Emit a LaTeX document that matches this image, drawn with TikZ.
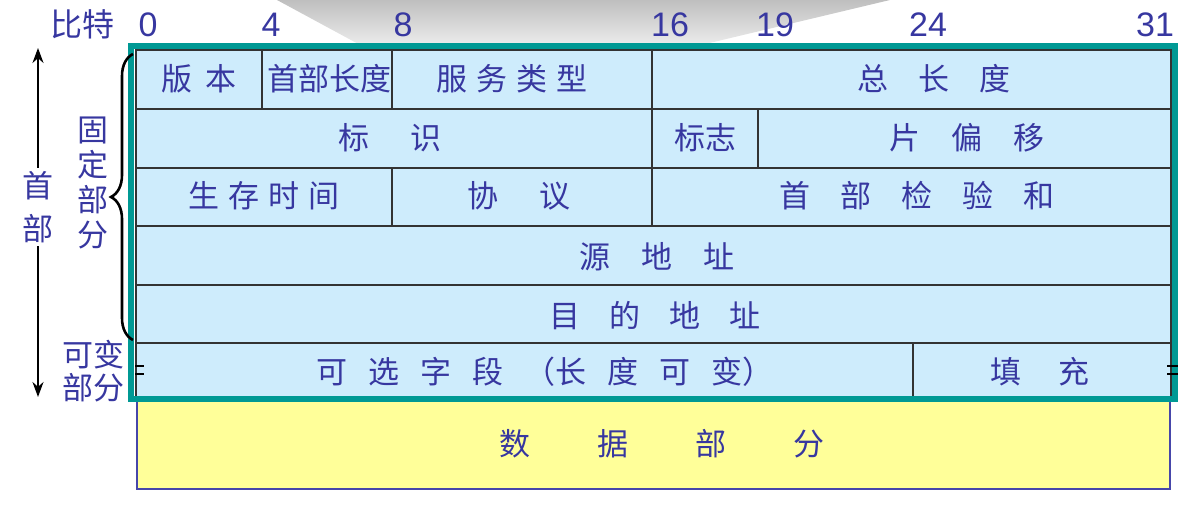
\documentclass[tikz,border=0pt]{standalone}
\usepackage{fontspec}
\newfontfamily\cjk{Noto Sans CJK SC}
\newfontfamily\digitfont{Liberation Sans}
\usetikzlibrary{arrows.meta,decorations.pathreplacing}
\definecolor{teal2}{RGB}{0,153,148}
\definecolor{txtblue}{RGB}{55,55,160}
\definecolor{cellblue}{RGB}{206,236,252}
\definecolor{datayel}{RGB}{255,255,153}
\definecolor{databord}{RGB}{70,70,170}
\newcommand\gapp[1]{\hspace{#1pt}}
\tikzset{
  cell/.style={draw=black!80,line width=1.6pt,fill=cellblue},
  lbl/.style={font=\cjk\fontsize{31}{31}\selectfont,text=txtblue,inner sep=0pt,anchor=center},
  bit/.style={font=\digitfont\fontsize{34}{34}\selectfont,text=txtblue,inner sep=0pt,anchor=center},
  frame/.style={draw=teal2,line width=6pt},
  brk/.style={draw=black,line width=2.6pt},
}
\begin{document}
\begin{tikzpicture}[x=1pt,y=-1pt]
\useasboundingbox (0,0) rectangle (1192,510);
% grey callout shape
\shade[top color=black!25,bottom color=black!7] (277,0) -- (890,0) -- (697,46) -- (362,46) -- cycle;
% bit labels
\node[lbl,font=\cjk\fontsize{32}{32}\selectfont] (bits) at (82,24) {比特};
\node[bit] (b0) at (148,25) {0};
\node[bit] (b4) at (271,25) {4};
\node[bit] (b8) at (403,25) {8};
\node[bit] (b16) at (670,25) {16};
\node[bit] (b19) at (775,25) {19};
\node[bit] (b24) at (928,25) {24};
\node[bit] (b31) at (1155,25) {31};
% row 1
\draw[cell] (136,50) rectangle (262,109);
\draw[cell] (262,50) rectangle (392,109);
\draw[cell] (392,50) rectangle (652,109);
\draw[cell] (652,50) rectangle (1171,109);
\node[lbl] (ver) at (199,79) {版\gapp{14}本};
\node[lbl] (hlen) at (329,79) {首部长度};
\node[lbl] (tos) at (512,79) {服\gapp{9}务\gapp{9}类\gapp{9}型};
\node[lbl] (tlen) at (934,79) {总\gapp{30}长\gapp{30}度};
% row 2
\draw[cell] (136,109) rectangle (652,168);
\draw[cell] (652,109) rectangle (758,168);
\draw[cell] (758,109) rectangle (1171,168);
\node[lbl] (ident) at (390,138) {标\gapp{41}识};
\node[lbl] (flag) at (705,138) {标志};
\node[lbl] (foff) at (967,138) {片\gapp{31}偏\gapp{31}移};
% row 3
\draw[cell] (136,168) rectangle (392,226);
\draw[cell] (392,226) rectangle (652,168);
\draw[cell] (652,168) rectangle (1171,226);
\node[lbl] (ttl) at (264,196) {生\gapp{9}存\gapp{9}时\gapp{9}间};
\node[lbl] (proto) at (519,196) {协\gapp{42}议};
\node[lbl] (csum) at (917,196) {首\gapp{30}部\gapp{30}检\gapp{30}验\gapp{30}和};
% row 4
\draw[cell] (136,226) rectangle (1171,285);
\node[lbl] (src) at (657,257) {源\gapp{31}地\gapp{31}址};
% row 5
\draw[cell] (136,285) rectangle (1171,343);
\node[lbl] (dst) at (655,316) {目\gapp{29}的\gapp{29}地\gapp{29}址};
% row 6
\draw[cell] (136,343) rectangle (913,399);
\draw[cell] (913,343) rectangle (1171,399);
\node[lbl] (opt) at (545,372) {可\gapp{21}选\gapp{21}字\gapp{21}段\gapp{21}（长\gapp{21}度\gapp{21}可\gapp{21}变）};
\node[lbl] (pad) at (1040,372) {填\gapp{38}充};
% data part
\draw[draw=databord,line width=2pt,fill=datayel] (137,401) rectangle (1170,489);
\node[lbl] (data) at (662,444) {数\gapp{67}据\gapp{67}部\gapp{67}分};
% frame
\draw[frame] (131,46) rectangle (1175,399);
% brace
\coordinate (brtop) at (133,54);
\coordinate (brbot) at (133,340);
\draw[line width=2.6pt,decorate,decoration={brace,amplitude=22pt,aspect=0.5}] (brbot) -- (brtop);
% break marks
\coordinate (bl) at (140,366);
\coordinate (br) at (1173,366);
\draw[brk] (bl) ++(-5,0) -- ++(9,0) ++(-9,8) -- ++(9,0);
\draw[brk] (br) ++(-6,0) -- ++(11,0) ++(-11,8) -- ++(11,0);
% left header arrow
\coordinate (atop) at (38,48);
\coordinate (abot) at (38,397);
\draw[line width=2pt,{Stealth[length=15pt,width=11pt]}-{Stealth[length=15pt,width=11pt]}] (atop) -- (abot);
\node[lbl,fill=white,inner sep=3pt,align=center,font=\cjk\fontsize{31}{43}\selectfont] (hdr) at (38,207) {首\\部};
\node[lbl,align=center,font=\cjk\fontsize{31}{35}\selectfont] (fixed) at (93,183) {固\\定\\部\\分};
\node[lbl,align=center,font=\cjk\fontsize{31}{33}\selectfont] (var) at (93,371) {可变\\部分};
\end{tikzpicture}
\end{document}
